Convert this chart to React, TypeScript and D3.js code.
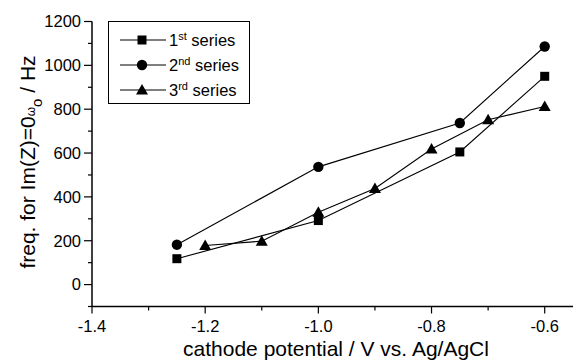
import * as d3 from "d3";
import React from "react";

// x = cathode potential (V vs. Ag/AgCl), y = freq (Hz)
const series1X = [-1.25, -1.0, -0.75, -0.6];
const series1Y = [118, 292, 605, 950];
const series2X = [-1.25, -1.0, -0.75, -0.6];
const series2Y = [182, 537, 737, 1086];
const series3X = [-1.2, -1.1, -1.0, -0.9, -0.8, -0.7, -0.6];
const series3Y = [178, 198, 330, 438, 618, 752, 812];

const xTicks = [-1.4, -1.2, -1.0, -0.8, -0.6];
const xMinor = [-1.3, -1.1, -0.9, -0.7];
const yTicks = [0, 200, 400, 600, 800, 1000, 1200];
const yMinor = [-100, 100, 300, 500, 700, 900, 1100];

const legendNames = ["1", "2", "3"];
const legendSups = ["st", "nd", "rd"];

const width = 573;
const height = 360;
const font = "'Liberation Sans', Arial, Helvetica, sans-serif";

function Marker({ kind, x, y }) {
  if (kind === 0) return <rect x={x - 4.5} y={y - 4.5} width={9} height={9} fill="#000" />;
  if (kind === 1) return <circle cx={x} cy={y} r={5.2} fill="#000" />;
  return <path d={`M${x},${y - 6} L${x + 6},${y + 4.5} L${x - 6},${y + 4.5} Z`} fill="#000" />;
}

export default function App() {
  const x = d3.scaleLinear().domain([-1.4, -0.55]).range([92, 573]);
  const y = d3.scaleLinear().domain([-100, 1200]).range([306.5, 21.5]);

  const line = d3
    .line()
    .x((d) => x(d[0]))
    .y((d) => y(d[1]));

  const all = [
    d3.zip(series1X, series1Y),
    d3.zip(series2X, series2Y),
    d3.zip(series3X, series3Y),
  ];

  const x0 = x.range()[0];
  const y0 = y.range()[0];

  return (
    <svg
      width={width}
      height={height}
      style={{ position: "absolute", left: 0, top: 0, background: "#fff" }}
      fontFamily={font}
    >
      <rect width={width} height={height} fill="#fff" />

      {/* data */}
      {all.map((pts, i) => (
        <g key={i}>
          <path d={line(pts)} fill="none" stroke="#000" strokeWidth={1.1} />
          {pts.map((p, j) => (
            <Marker key={j} kind={i} x={x(p[0])} y={y(p[1])} />
          ))}
        </g>
      ))}

      {/* y axis */}
      <line x1={x0} x2={x0} y1={y.range()[1]} y2={y0} stroke="#000" strokeWidth={1.5} />
      {yTicks.map((t) => (
        <g key={t}>
          <line x1={x0 - 8} x2={x0} y1={y(t)} y2={y(t)} stroke="#000" strokeWidth={1.2} />
          <text x={x0 - 11} y={y(t)} dy="0.35em" textAnchor="end" fontSize={16.5}>
            {t}
          </text>
        </g>
      ))}
      {yMinor.map((t) => (
        <line key={t} x1={x0 - 4} x2={x0} y1={y(t)} y2={y(t)} stroke="#000" strokeWidth={1.2} />
      ))}

      {/* x axis */}
      <line x1={x0} x2={x.range()[1]} y1={y0} y2={y0} stroke="#000" strokeWidth={1.5} />
      {xTicks.map((t) => (
        <g key={t}>
          <line x1={x(t)} x2={x(t)} y1={y0} y2={y0 + 7} stroke="#000" strokeWidth={1.2} />
          <text x={x(t)} y={y0 + 25} textAnchor="middle" fontSize={16.5}>
            {d3.format(".1f")(t).replace("−", "-")}
          </text>
        </g>
      ))}
      {xMinor.map((t) => (
        <line key={t} x1={x(t)} x2={x(t)} y1={y0} y2={y0 + 4} stroke="#000" strokeWidth={1.2} />
      ))}

      {/* axis titles */}
      <text x={336} y={356} textAnchor="middle" fontSize={21}>
        cathode potential / V vs. Ag/AgCl
      </text>
      <text transform="translate(35,162) rotate(-90)" textAnchor="middle" fontSize={21}>
        freq. for Im(Z)=0
        <tspan fontSize={12}>ω</tspan>
        <tspan fontSize={15} dy={7}>o</tspan>
        <tspan dy={-7}> / Hz</tspan>
      </text>

      {/* legend */}
      <rect x={108.5} y={21.5} width={141} height={82} fill="#fff" stroke="#000" strokeWidth={1} />
      {legendNames.map((n, i) => {
        const ly = 40 + i * 25;
        return (
          <g key={n}>
            <line x1={120} x2={166} y1={ly} y2={ly} stroke="#000" strokeWidth={1.1} />
            <Marker kind={i} x={142} y={ly} />
            <text x={169} y={ly + 6} fontSize={16.5}>
              {n}
              <tspan fontSize={11} dy={-6}>
                {legendSups[i]}
              </tspan>
              <tspan dy={6}> series</tspan>
            </text>
          </g>
        );
      })}
    </svg>
  );
}
